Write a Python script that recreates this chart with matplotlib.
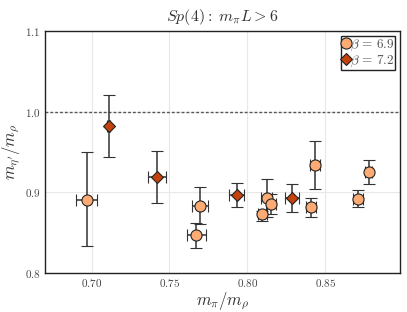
import matplotlib
matplotlib.use('Agg')
import matplotlib.pyplot as plt
from matplotlib.ticker import FuncFormatter
from matplotlib.lines import Line2D

plt.rcParams['mathtext.fontset'] = 'cm'
plt.rcParams['font.family'] = 'serif'
plt.rcParams['font.serif'] = ['DejaVu Serif']

# beta = 6.9
x69 = [0.6968, 0.7696, 0.7673, 0.8096, 0.8125, 0.8152, 0.8408, 0.8432, 0.8708, 0.8778]
xe69 = [0.0069, 0.0053, 0.0060, 0.0030, 0.0035, 0.0032, 0.0032, 0.0032, 0.0032, 0.0020]
y69 = [0.891, 0.8835, 0.8468, 0.8736, 0.8935, 0.8856, 0.8815, 0.934, 0.8922, 0.925]
ye69_lo = [0.058, 0.0227, 0.0158, 0.0086, 0.0235, 0.0127, 0.0125, 0.030, 0.0107, 0.015]
ye69_hi = [0.059, 0.0232, 0.0157, 0.0034, 0.0235, 0.0128, 0.012, 0.030, 0.0108, 0.015]

# beta = 7.2
x72 = [0.7109, 0.7419, 0.7933, 0.8288]
xe72 = [0.0012, 0.0059, 0.0048, 0.0045]
y72 = [0.9823, 0.9195, 0.8972, 0.893]
ye72_lo = [0.0383, 0.0322, 0.0157, 0.0173]
ye72_hi = [0.0384, 0.0315, 0.0148, 0.017]

c69 = '#fdab75'
c72 = '#c4420c'

fig, ax = plt.subplots(figsize=(4.07, 3.12), dpi=100)
fig.subplots_adjust(left=0.11, right=0.983, top=0.9, bottom=0.125)

ax.grid(True, color='#e8e8e8', linewidth=0.8)
ax.set_axisbelow(True)
ax.axhline(1.0, color='#555555', linestyle=(0, (2, 1.5)), linewidth=1.0, zorder=1)

ax.errorbar(x69, y69, xerr=xe69, yerr=[ye69_lo, ye69_hi], fmt='o', color='#333333',
            mfc=c69, mec='#222222', ms=8, mew=0.8, capsize=4, elinewidth=1.1,
            capthick=1.1, zorder=3)
ax.errorbar(x72, y72, xerr=xe72, yerr=[ye72_lo, ye72_hi], fmt='D', color='#333333',
            mfc=c72, mec='#222222', ms=6.5, mew=0.8, capsize=4, elinewidth=1.1,
            capthick=1.1, zorder=3)

ax.set_xlim(0.67, 0.898)
ax.set_ylim(0.8, 1.1)
ax.set_xticks([0.70, 0.75, 0.80, 0.85])
ax.set_yticks([0.8, 0.9, 1.0, 1.1])
ax.xaxis.set_major_formatter(FuncFormatter(lambda v, p: r'$%.2f$' % v))
ax.yaxis.set_major_formatter(FuncFormatter(lambda v, p: r'$%.1f$' % v))
ax.tick_params(length=0, labelsize=8, labelcolor='#444444', pad=3)
for s in ax.spines.values():
    s.set_color('#222222')
    s.set_linewidth(1.0)

ax.set_xlabel(r'$m_\pi/m_\rho$', fontsize=12, color='#333333', labelpad=1)
ax.set_ylabel(r"$m_{\eta'}/m_\rho$", fontsize=12, color='#333333', labelpad=2)
ax.set_title(r'$Sp(4):\ m_\pi L>6$', fontsize=11.5, color='#333333', pad=7)

handles = [Line2D([], [], ls='none', marker='o', mfc=c69, mec='#222222', ms=8, mew=0.8),
           Line2D([], [], ls='none', marker='D', mfc=c72, mec='#222222', ms=6, mew=0.8)]
labels = [r'$\beta\,=\,6.9$', r'$\beta\,=\,7.2$']
leg = ax.legend(handles, labels, loc='upper right', numpoints=1, handlelength=0.5,
                handletextpad=0.05, borderpad=0.1, borderaxespad=0.35, labelspacing=0.05,
                fancybox=False, framealpha=1, fontsize=9.5)
leg.get_frame().set_edgecolor('#222222')
leg.get_frame().set_linewidth(1.0)
for t in leg.get_texts():
    t.set_color('#555555')

fig.savefig('out.png', dpi=100)
